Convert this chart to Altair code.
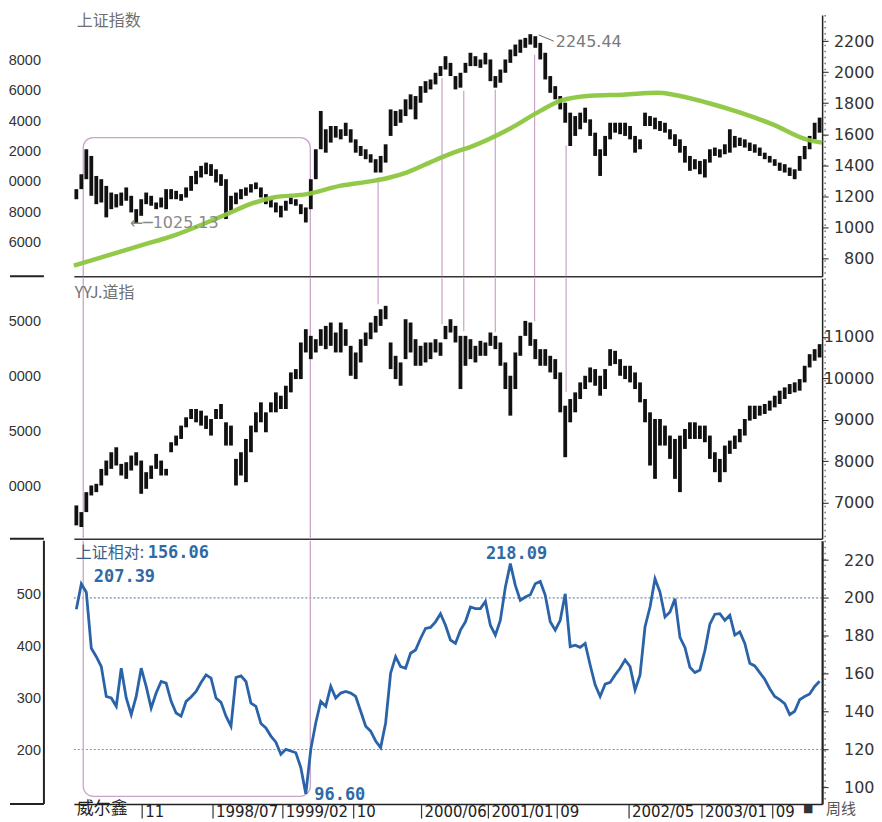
import altair as alt
import pandas as pd

# ---------------- data ----------------
# one sample every 2.5 weekly bars; x is the weekly bar index
N_SAMPLES = 150
week = [i * 2.5 + 1.25 for i in range(N_SAMPLES)]

# 上证指数 weekly range (low / high)
sh_lo = [1181, 1246, 1310, 1203, 1149, 1160, 1064, 1117, 1128, 1139,
         1171, 1096, 1025, 1074, 1149, 1139, 1117, 1128, 1117, 1181,
         1181, 1171, 1192, 1235, 1278, 1321, 1342, 1331, 1289, 1267,
         1053, 1107, 1149, 1181, 1203, 1224, 1246, 1192, 1149, 1128,
         1096, 1064, 1107, 1149, 1139, 1085, 1031, 1117, 1310, 1503,
         1481, 1546, 1578, 1567, 1589, 1546, 1481, 1460, 1439, 1417,
         1353, 1353, 1417, 1589, 1653, 1674, 1717, 1760, 1696, 1803,
         1867, 1889, 1921, 1975, 2017, 1975, 1889, 1900, 1996, 2039,
         2039, 2028, 2050, 1942, 1900, 1932, 1996, 2060, 2103, 2125,
         2157, 2178, 2157, 2082, 1953, 1867, 1825, 1760, 1674, 1524,
         1589, 1632, 1674, 1589, 1460, 1331, 1460, 1567, 1610, 1600,
         1589, 1567, 1481, 1503, 1653, 1653, 1632, 1621, 1610, 1567,
         1524, 1481, 1417, 1364, 1374, 1342, 1321, 1417, 1460, 1450,
         1471, 1481, 1514, 1524, 1514, 1492, 1481, 1460, 1439, 1417,
         1396, 1364, 1353, 1331, 1310, 1364, 1439, 1503, 1567, 1610]
sh_hi = [1246, 1342, 1503, 1460, 1331, 1310, 1267, 1224, 1214, 1224,
         1257, 1203, 1117, 1181, 1224, 1203, 1160, 1192, 1246, 1246,
         1235, 1214, 1257, 1331, 1364, 1396, 1417, 1407, 1374, 1342,
         1310, 1203, 1224, 1246, 1257, 1278, 1289, 1257, 1214, 1181,
         1160, 1139, 1171, 1192, 1181, 1149, 1128, 1310, 1503, 1750,
         1632, 1653, 1653, 1632, 1674, 1632, 1567, 1524, 1503, 1471,
         1439, 1460, 1535, 1760, 1750, 1760, 1825, 1857, 1846, 1910,
         1942, 1953, 1996, 2039, 2103, 2060, 1975, 1996, 2060, 2125,
         2103, 2082, 2125, 2082, 1975, 2017, 2082, 2146, 2178, 2210,
         2221, 2245, 2232, 2189, 2125, 1975, 1910, 1846, 1803, 1739,
         1717, 1739, 1771, 1696, 1610, 1503, 1589, 1674, 1674, 1674,
         1674, 1653, 1589, 1567, 1739, 1717, 1707, 1685, 1674, 1632,
         1600, 1567, 1524, 1460, 1439, 1428, 1439, 1503, 1514, 1503,
         1535, 1632, 1589, 1578, 1567, 1546, 1535, 1514, 1481, 1460,
         1439, 1417, 1407, 1385, 1374, 1460, 1524, 1589, 1674, 1707]

# YYJ.道指 weekly range (low / high)
dj_lo = [6447, 6407, 6768, 7170, 7250, 7411, 7652, 7812, 7893, 7652,
         7571, 7772, 7893, 7210, 7330, 7571, 7812, 7652, 7652, 8214,
         8375, 8535, 8816, 9017, 8937, 8857, 8776, 8616, 9017, 9017,
         8375, 8375, 7411, 7652, 7491, 8214, 8696, 8937, 8696, 9178,
         9178, 9258, 9258, 9660, 9981, 9981, 10624, 10463, 10624, 10784,
         10704, 10784, 10624, 10624, 10784, 10061, 9981, 10383, 10784, 10945,
         11106, 11266, 11427, 10222, 9981, 9820, 10463, 10624, 10302, 10302,
         10383, 10463, 10624, 10543, 10945, 11106, 10865, 9740, 10302, 10463,
         10383, 10543, 10543, 10784, 10704, 10302, 9740, 9098, 9740, 10543,
         11025, 10784, 10463, 10302, 10302, 10142, 9981, 9178, 8094, 8937,
         9178, 9499, 9740, 9901, 9820, 9579, 9740, 10302, 10343, 10061,
         9981, 9901, 9740, 9419, 8937, 7893, 7571, 8375, 8375, 8053,
         7571, 7250, 8294, 8535, 8535, 8535, 8455, 8053, 7732, 7491,
         7732, 8174, 8294, 8455, 8616, 8977, 9017, 9098, 9138, 9218,
         9298, 9379, 9499, 9620, 9660, 9700, 9901, 10262, 10423, 10503]
dj_hi = [6929, 6768, 7250, 7411, 7451, 7812, 8013, 8214, 8334, 7933,
         7973, 8134, 8214, 8013, 7732, 7893, 8174, 8013, 7812, 8455,
         8616, 8857, 9058, 9258, 9258, 9218, 9098, 9017, 9258, 9379,
         8937, 8857, 8053, 8214, 8535, 8857, 9178, 9419, 9178, 9419,
         9660, 9579, 9820, 10142, 10222, 10865, 11186, 11025, 10945, 11186,
         11266, 11347, 11106, 11347, 11186, 10784, 10624, 10945, 11106, 11347,
         11507, 11668, 11750, 10865, 10543, 10383, 11427, 11347, 10945, 10784,
         10865, 10865, 10945, 10865, 11266, 11427, 11266, 11025, 11025, 10945,
         10784, 10905, 10865, 11106, 11025, 10865, 10383, 10061, 10624, 11025,
         11387, 11347, 10945, 10704, 10704, 10543, 10463, 10142, 9338, 9499,
         9660, 9901, 10061, 10262, 10222, 10061, 10222, 10704, 10664, 10463,
         10302, 10302, 10142, 9901, 9499, 9178, 9017, 9017, 8857, 8616,
         8535, 8616, 8776, 8937, 8937, 8857, 8857, 8616, 8214, 8053,
         8375, 8495, 8616, 8776, 9017, 9338, 9338, 9338, 9379, 9459,
         9579, 9700, 9780, 9861, 9901, 9981, 10302, 10583, 10704, 10825]

# 上证相对
rel = [194, 207.39, 203, 173.4, 169.0, 163.8, 148.0, 147.2, 142.8, 162.9,
       147.2, 138.4, 148.0, 162.9, 153.3, 141.9, 149.8, 155.9, 155.0, 145.4,
       139.3, 137.6, 145.4, 147.7, 150.7, 155.4, 159.4, 157.7, 147.2, 144.9,
       137.6, 132.3, 158.0, 158.9, 155.9, 144.5, 142.8, 133.7, 131.4, 127.1,
       123.9, 117.5, 120.1, 119.2, 118.3, 110.5, 96.6, 120.1, 134.1, 145.4,
       142.8, 153.3, 147.2, 149.8, 150.7, 149.8, 148.0, 140.2, 132.3, 129.7,
       124.5, 121.0, 134.0, 160.3, 169.0, 163.8, 162.9, 170.8, 172.5, 178.6,
       183.9, 184.4, 187.4, 191.7, 185.6, 177.8, 176.0, 183.0, 187.4, 195.2,
       194.4, 194.4, 198.2, 185.6, 180.4, 188.2, 205.7, 218.09, 206.6, 198.7,
       200.5, 201.7, 207.5, 208.7, 201.4, 187.4, 183.0, 188.2, 202.2, 174.3,
       175.1, 173.9, 176.0, 164.6, 154.2, 148.0, 154.5, 155.4, 159.4, 162.9,
       167.3, 163.8, 151.5, 159.4, 184.8, 195.2, 210.1, 203.1, 190.0, 192.6,
       199.6, 179.2, 173.9, 163.4, 160.6, 162.0, 172.2, 186.2, 191.4, 191.7,
       188.2, 190.9, 180.4, 182.1, 176.0, 165.5, 164.1, 160.6, 157.1, 152.1,
       148.0, 146.3, 144.2, 138.4, 140.2, 146.3, 148.0, 149.3, 153.3, 156.06]

# long moving average of 上证指数 (green)
ma_week = [0, 16.7, 33.3, 50, 66.7, 76.7, 88.3, 100, 116.7, 133.3,
           150, 158.3, 166.7, 178.3, 184, 190, 200.5, 217.5, 234, 244,
           259, 275.5, 292.5, 300.5, 317.5, 334, 350.5, 367.5, 375]
ma_val = [753, 817, 882, 946, 1031, 1085, 1149, 1192, 1214, 1267,
          1299, 1321, 1353, 1417, 1449, 1480, 1527, 1629, 1752, 1816,
          1848, 1855, 1867, 1855, 1803, 1739, 1662, 1565, 1546]

# time axis
tick_week = [34, 69.5, 104.5, 140, 174, 207.5, 242, 278, 314.5, 350]
tick_label = ["11", "1998/07", "1999/02", "10", "2000/06", "2001/01", "09",
              "2002/05", "2003/01", "09"]

# pink connector lines (top highs -> Dow highs)
link_week = [152.5, 184.5, 195.4, 211.2, 230.9, 246.7]
link_sh = [1321, 1964, 1880, 1887, 2112, 1527]
link_dj = [11789, 11307, 11138, 11114, 11379, 9668]

# pink rounded frame
box_week = [4.7, 118.5]
box_sh_top = 1578
box_rel_bottom = 95.3

# right axis ticks
sh_ticks = [800, 1000, 1200, 1400, 1600, 1800, 2000, 2200]
dj_ticks = [7000, 8000, 9000, 10000, 11000]
rel_ticks = [100, 120, 140, 160, 180, 200, 220]
MINOR_WEEK = 376.5      # dotted minor-tick strip just right of the axis line

# scale domains (panel edges)
SH_DOM = [684, 2369]
DJ_DOM = [6125, 12415]
REL_DOM = [91.2, 230.2]

# cropped neighbour chart on the left
strip_top_vals = [18000, 16000, 14000, 12000, 10000, 8000, 6000]
strip_top_text = ["8000", "6000", "4000", "2000", "0000", "8000", "6000"]
strip_mid_vals = [25000, 20000, 15000, 10000]
strip_mid_text = ["5000", "0000", "5000", "0000"]
strip_bot_vals = [500, 400, 300, 200]
strip_bot_text = ["500", "400", "300", "200"]
ST_DOM = [3809, 21046]
SM_DOM = [5300, 29027]
SB_DOM = [98.4, 604]
STRIP_L, STRIP_R, STRIP_TXT = -32, -15, -16.5   # in weekly-bar units

# ---------------- styling ----------------
PINK = "#c9a3c9"
BLACK = "#111111"
GREEN = "#8dc63f"
BLUE = "#2a63a8"
NUMBLUE = "#2f6aa6"
W = 750
H_TOP, H_MID, H_BOT = 262, 261, 264
BAR_W = 3.8

xs = alt.Scale(domain=[0, 375], nice=False, zero=False)
sh_scale = alt.Scale(domain=SH_DOM, nice=False, zero=False)
dj_scale = alt.Scale(domain=DJ_DOM, nice=False, zero=False)
rel_scale = alt.Scale(domain=REL_DOM, nice=False, zero=False)


def right_axis(vals, dw=1.5):
    return alt.Axis(orient="right", values=vals, format="d", tickSize=6,
                    tickColor="#222222", tickWidth=1, domainColor="#222222",
                    domainWidth=dw, labelAlign="right", labelBaseline="middle",
                    labelPadding=46, labelFont="DejaVu Sans", labelFontSize=16,
                    labelColor="#333333", labelOverlap=False, labelFlush=False,
                    offset=0, grid=False, title=None, minExtent=52, maxExtent=52)


def sep_axis():
    return alt.Axis(orient="bottom", labels=False, ticks=False, domain=True,
                    domainColor="#333333", domainWidth=1.5, grid=False,
                    title=None, minExtent=0, maxExtent=0)


label_expr = " : ".join(f"datum.value == {w} ? '{l}'" for w, l in zip(tick_week, tick_label)) + " : ''"
time_axis = alt.Axis(orient="bottom", values=tick_week, labelExpr=label_expr,
                     tickSize=14, tickColor="#333333", tickWidth=1.2,
                     domainColor="#222222", domainWidth=1.5, labelAlign="left",
                     labelBaseline="middle", labelPadding=-7, labelOffset=3,
                     labelFont="DejaVu Sans", labelFontSize=15, labelColor="#222222",
                     labelOverlap=False, labelFlush=False, grid=False, title=None)


def ex(field, axis):
    return alt.X(field, type="quantitative", scale=xs, axis=axis)


def ey(field, scale, axis):
    return alt.Y(field, type="quantitative", scale=scale, axis=axis)


def texts(weeks, vals, txts, xaxis, yscale, yaxis, **mk):
    df = pd.DataFrame({"week": weeks, "val": vals, "txt": txts})
    return alt.Chart(df).mark_text(**mk).encode(
        x=ex("week", xaxis), y=ey("val", yscale, yaxis), text="txt:N")


def minor_ticks(axx):
    return (alt.Chart(pd.DataFrame({"week": [MINOR_WEEK]}))
            .mark_rule(color="#555555", strokeWidth=1.2, strokeDash=[1.5, 4.5])
            .encode(x=ex("week", axx)))


def strip_layers(vals, txts, dom, axx, vline):
    ys = alt.Scale(domain=dom, nice=False, zero=False)
    out = [
        alt.Chart(pd.DataFrame({"x1": [STRIP_L], "x2": [STRIP_R], "y": [dom[0]]}))
        .mark_rule(color="#222222", strokeWidth=2)
        .encode(x=ex("x1", axx), x2="x2", y=alt.Y("y:Q", scale=ys, axis=None)),
        alt.Chart(pd.DataFrame({"week": [STRIP_TXT] * len(vals), "val": vals, "txt": txts}))
        .mark_text(align="right", baseline="middle", font="Liberation Sans",
                   fontSize=14.5, color="#333333")
        .encode(x=ex("week", axx), y=alt.Y("val:Q", scale=ys, axis=None), text="txt:N"),
    ]
    if vline:
        out.append(
            alt.Chart(pd.DataFrame({"x": [STRIP_R], "y1": [dom[0]], "y2": [dom[1]]}))
            .mark_rule(color="#222222", strokeWidth=2)
            .encode(x=ex("x", axx), y=alt.Y("y1:Q", scale=ys, axis=None), y2="y2"))
    return out


def panel(main_layers, side_layers, h):
    return (alt.layer(alt.layer(*main_layers), alt.layer(*side_layers))
            .resolve_scale(y="independent")
            .properties(width=W, height=h))


df_link = pd.DataFrame({"week": link_week, "sh": link_sh, "dj": link_dj,
                        "sh_base": [SH_DOM[0]] * len(link_week),
                        "dj_top": [DJ_DOM[1]] * len(link_week)})

# ---------------- top panel: 上证指数 ----------------
axx, axy = sep_axis(), right_axis(sh_ticks)
df_sh = pd.DataFrame({"week": week, "lo": sh_lo, "hi": sh_hi})
top = panel([
    alt.Chart(pd.DataFrame({"x1": [box_week[0]], "x2": [box_week[1]],
                            "y1": [box_sh_top], "y2": [SH_DOM[0] - 300]}))
    .mark_rect(clip=True, fillOpacity=0, stroke=PINK, strokeWidth=1.3, cornerRadius=10)
    .encode(x=ex("x1", axx), x2="x2", y=ey("y1", sh_scale, axy), y2="y2"),
    alt.Chart(df_link).mark_rule(color=PINK, strokeWidth=1.2)
    .encode(x=ex("week", axx), y=ey("sh", sh_scale, axy), y2="sh_base"),
    alt.Chart(df_sh).mark_rule(color=BLACK, strokeWidth=BAR_W)
    .encode(x=ex("week", axx), y=ey("lo", sh_scale, axy), y2="hi"),
    alt.Chart(pd.DataFrame({"week": ma_week, "ma": ma_val}))
    .mark_line(color=GREEN, strokeWidth=4.5, interpolate="monotone", opacity=0.95)
    .encode(x=ex("week", axx), y=ey("ma", sh_scale, axy)),
    alt.Chart(pd.DataFrame({"week": [233, 240.5], "val": [2240, 2200]}))
    .mark_line(color="#666666", strokeWidth=1)
    .encode(x=ex("week", axx), y=ey("val", sh_scale, axy)),
    minor_ticks(axx),
    texts([1.5], [2330], ["上证指数"], axx, sh_scale, axy, align="left",
          baseline="middle", font="Noto Sans CJK SC", fontSize=16, color="#707070"),
    texts([28], [1025], ["←─1025.13"], axx, sh_scale, axy, align="left",
          baseline="middle", font="DejaVu Sans", fontSize=16, color="#8a8a8a"),
    texts([241.5], [2195], ["2245.44"], axx, sh_scale, axy, align="left",
          baseline="middle", font="DejaVu Sans", fontSize=16, color="#7a7a7a"),
], strip_layers(strip_top_vals, strip_top_text, ST_DOM, axx, False), H_TOP)

# ---------------- middle panel: YYJ.道指 ----------------
axx, axy = sep_axis(), right_axis(dj_ticks)
df_dj = pd.DataFrame({"week": week, "lo": dj_lo, "hi": dj_hi})
mid = panel([
    alt.Chart(pd.DataFrame({"week": box_week})).mark_rule(color=PINK, strokeWidth=1.3)
    .encode(x=ex("week", axx)),
    alt.Chart(df_link).mark_rule(color=PINK, strokeWidth=1.2)
    .encode(x=ex("week", axx), y=ey("dj_top", dj_scale, axy), y2="dj"),
    alt.Chart(df_dj).mark_rule(color=BLACK, strokeWidth=BAR_W)
    .encode(x=ex("week", axx), y=ey("lo", dj_scale, axy), y2="hi"),
    minor_ticks(axx),
    texts([0.5], [12054], ["YYJ.道指"], axx, dj_scale, axy, align="left",
          baseline="middle", font="Noto Sans CJK SC", fontSize=16, color="#707070"),
], strip_layers(strip_mid_vals, strip_mid_text, SM_DOM, axx, False), H_MID)

# ---------------- bottom panel: 上证相对 ----------------
axx, axy = time_axis, right_axis(rel_ticks, dw=2.2)
num_style = dict(align="left", baseline="middle", font="DejaVu Sans Mono",
                 fontWeight="bold", fontSize=17, color=NUMBLUE)
bot = panel([
    alt.Chart(pd.DataFrame({"lvl": [200]})).mark_rule(color="#4f6f9c", strokeWidth=1, strokeDash=[2, 2])
    .encode(y=ey("lvl", rel_scale, axy)),
    alt.Chart(pd.DataFrame({"lvl": [120]})).mark_rule(color="#b47f8f", strokeWidth=1, strokeDash=[2, 2])
    .encode(y=ey("lvl", rel_scale, axy)),
    alt.Chart(pd.DataFrame({"x1": [box_week[0]], "x2": [box_week[1]],
                            "y1": [REL_DOM[1] + 40], "y2": [box_rel_bottom]}))
    .mark_rect(clip=True, fillOpacity=0, stroke=PINK, strokeWidth=1.3, cornerRadius=10)
    .encode(x=ex("x1", axx), x2="x2", y=ey("y1", rel_scale, axy), y2="y2"),
    alt.Chart(pd.DataFrame({"week": week, "rel": rel}))
    .mark_line(color=BLUE, strokeWidth=2.8)
    .encode(x=ex("week", axx), y=ey("rel", rel_scale, axy)),
    minor_ticks(axx),
    texts([1], [223.9], ["上证相对:"], axx, rel_scale, axy, align="left",
          baseline="middle", font="Noto Sans CJK SC", fontSize=16, color="#3b5f8a"),
    texts([37], [223.9], ["156.06"], axx, rel_scale, axy, **num_style),
    texts([10, 206.5, 120.5], [210.8, 223.4, 96.0], ["207.39", "218.09", "96.60"],
          axx, rel_scale, axy, **num_style),
    texts([1.5], [88.6], ["威尔鑫"], axx, rel_scale, axy, align="left",
          baseline="middle", font="Noto Sans CJK SC", fontSize=17, color="#222222"),
    texts([368], [88.6], ["■"], axx, rel_scale, axy, align="center",
          baseline="middle", font="DejaVu Sans", fontSize=11, color="#333333"),
    texts([377], [88.6], ["周线"], axx, rel_scale, axy, align="left",
          baseline="middle", font="Noto Sans CJK SC", fontSize=15, color="#555555"),
], strip_layers(strip_bot_vals, strip_bot_text, SB_DOM, axx, True), H_BOT)

chart = alt.vconcat(top, mid, bot, spacing=0).properties(
    padding={"left": 0, "top": 4, "right": 0, "bottom": 0},
    background="white",
).configure_view(stroke=None)

chart.save("out.html", embed_options={"renderer": "svg", "actions": False})
